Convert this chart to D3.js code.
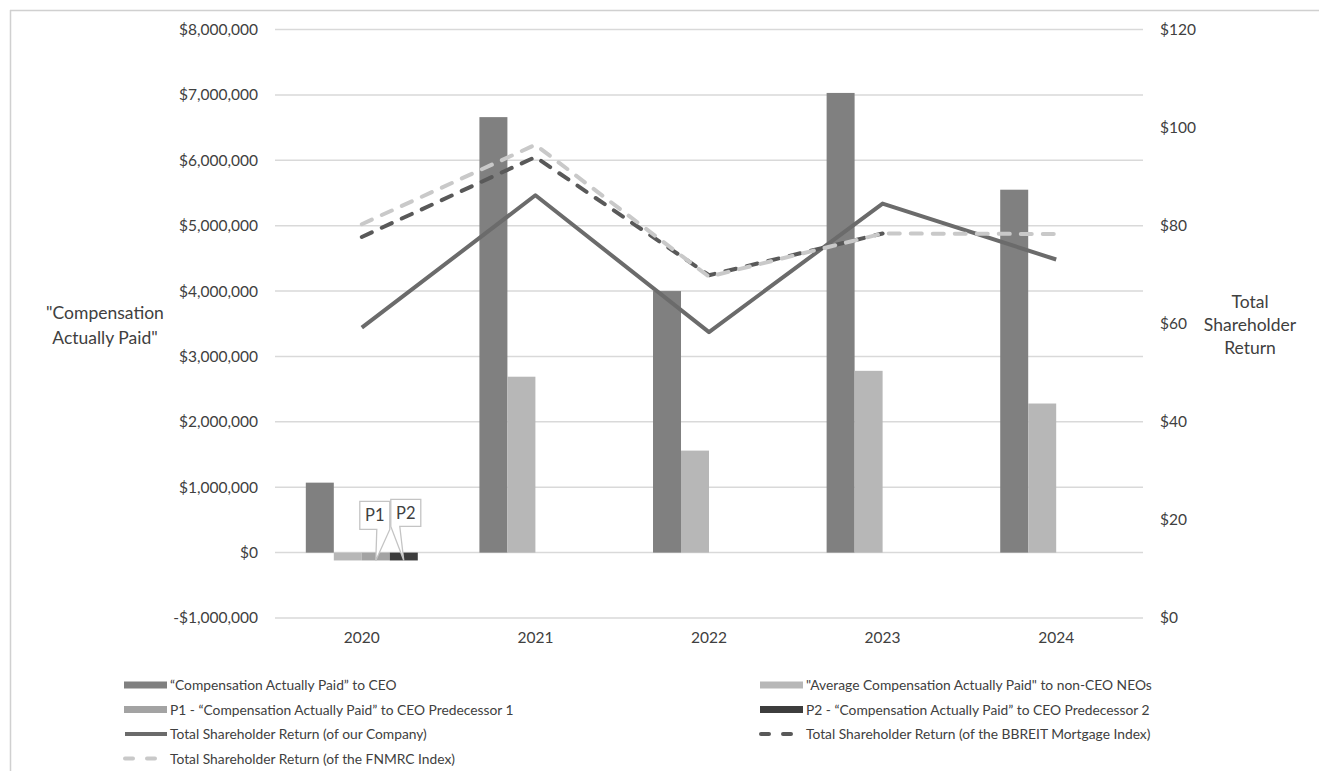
<!DOCTYPE html>
<html>
<head>
<meta charset="utf-8">
<script src="https://cdn.jsdelivr.net/npm/d3@7"></script>
<style>
  body { margin: 0; background: #fff; }
  svg { display: block; font-family: Lato, "Open Sans", sans-serif; }
</style>
</head>
<body>
<svg id="chart" width="1319" height="771"></svg>
<script>
// data
const years = ['2020', '2021', '2022', '2023', '2024'];
const ceoPaid = [1070000, 6660000, 4000000, 7030000, 5550000];
const neoPaid = [-120000, 2690000, 1560000, 2780000, 2280000];
const p1Paid = [-120000, null, null, null, null];
const p2Paid = [-120000, null, null, null, null];
const tsrCompany = [59.2, 86.2, 58.3, 84.5, 73.1];
const tsrBbreit = [77.7, 94.0, 69.9, 78.4, null];
const tsrFnmrc = [80.3, 96.5, 69.6, 78.4, 78.3];
const leftTicks = [-1000000, 0, 1000000, 2000000, 3000000, 4000000, 5000000, 6000000, 7000000, 8000000];
const rightTicks = [0, 20, 40, 60, 80, 100, 120];

const svg = d3.select('#chart');
const W = 1319;
const FONT = 'Lato, "Open Sans", sans-serif';
const TXT = '#404040';

const x = d3.scaleBand().domain(years).range([275, 1143]);
const yL = d3.scaleLinear().domain([-1000000, 8000000]).range([618, 29.5]);
const yR = d3.scaleLinear().domain([0, 120]).range([618, 29.5]);

const barSeries = [
    {key: 'ceo', vals: ceoPaid, color: '#808080', label: '“Compensation Actually Paid” to CEO'},
    {key: 'neo', vals: neoPaid, color: '#b7b7b7', label: '"Average Compensation Actually Paid" to non-CEO NEOs'},
    {key: 'p1', vals: p1Paid, color: '#a3a3a3', label: 'P1 - “Compensation Actually Paid” to CEO Predecessor 1'},
    {key: 'p2', vals: p2Paid, color: '#3d3d3d', label: 'P2 - “Compensation Actually Paid” to CEO Predecessor 2'}
];
const lineSeries = [
    {key: 'co', vals: tsrCompany, color: '#6b6b6b', dash: null, label: 'Total Shareholder Return (of our Company)'},
    {key: 'bb', vals: tsrBbreit, color: '#595959', dash: '11,11', label: 'Total Shareholder Return (of the BBREIT Mortgage Index)'},
    {key: 'fn', vals: tsrFnmrc, color: '#c9c9c9', dash: '11,11', label: 'Total Shareholder Return (of the FNMRC Index)'}
];

const groupW = x.bandwidth() * 0.645;
const xs = d3.scaleBand().domain(barSeries.map(s => s.key))
    .range([(x.bandwidth() - groupW) / 2, (x.bandwidth() + groupW) / 2]);

// frame
svg.append('line').attr('x1', 10).attr('x2', W).attr('y1', 10.5).attr('y2', 10.5)
    .attr('stroke', '#d0d0d0').attr('stroke-width', 1.5);
svg.append('line').attr('x1', 10.5).attr('x2', 10.5).attr('y1', 10).attr('y2', 771)
    .attr('stroke', '#d0d0d0').attr('stroke-width', 1.5);

// gridlines
svg.append('g').selectAll('line').data(leftTicks).join('line')
    .attr('x1', 275).attr('x2', 1143)
    .attr('y1', d => yL(d)).attr('y2', d => yL(d))
    .attr('stroke', '#d9d9d9').attr('stroke-width', 1.5);

const styleTicks = (g, size) => {
    g.select('.domain').remove();
    g.selectAll('text').attr('font-size', size).attr('fill', TXT).attr('font-family', FONT);
};

// left axis
svg.append('g').attr('transform', 'translate(258,0)')
    .call(d3.axisLeft(yL).tickValues(leftTicks).tickSize(0).tickPadding(0)
        .tickFormat(d => (d < 0 ? '-$' : '$') + d3.format(',')(Math.abs(d))))
    .call(styleTicks, 15.5);

// right axis
svg.append('g').attr('transform', 'translate(1160,0)')
    .call(d3.axisRight(yR).tickValues(rightTicks).tickSize(0).tickPadding(0)
        .tickFormat(d => '$' + d))
    .call(styleTicks, 15.5);

// category axis
svg.append('g').attr('transform', 'translate(0,632)')
    .call(d3.axisBottom(x).tickSize(0).tickPadding(0))
    .call(styleTicks, 15.5);

// axis titles
const titleL = svg.append('text').attr('text-anchor', 'middle').attr('font-size', 17.5).attr('fill', TXT);
titleL.append('tspan').attr('x', 105).attr('y', 319).text('"Compensation');
titleL.append('tspan').attr('x', 105).attr('y', 344).text('Actually Paid"');
const titleR = svg.append('text').attr('text-anchor', 'middle').attr('font-size', 17.5).attr('fill', TXT);
['Total', 'Shareholder', 'Return'].forEach((t, i) => {
    titleR.append('tspan').attr('x', 1250).attr('y', 308 + i * 23).text(t);
});

// bars
barSeries.forEach(s => {
    svg.append('g').selectAll('rect')
        .data(years.map((yr, i) => ({yr, v: s.vals[i]})).filter(d => d.v !== null))
        .join('rect')
        .attr('x', d => x(d.yr) + xs(s.key))
        .attr('width', xs.bandwidth())
        .attr('y', d => Math.min(yL(d.v), yL(0)))
        .attr('height', d => Math.abs(yL(d.v) - yL(0)))
        .attr('fill', s.color);
});

// lines
const cx = yr => x(yr) + x.bandwidth() / 2;
lineSeries.forEach(s => {
    const line = d3.line()
        .defined(d => d.v !== null)
        .x(d => cx(d.yr))
        .y(d => yR(d.v));
    svg.append('path')
        .datum(years.map((yr, i) => ({yr, v: s.vals[i]})))
        .attr('d', line)
        .attr('fill', 'none')
        .attr('stroke', s.color)
        .attr('stroke-width', 4)
        .attr('stroke-linecap', s.dash ? 'round' : 'butt')
        .attr('stroke-linejoin', 'round')
        .attr('stroke-dasharray', s.dash);
});

// P1 / P2 callouts
const callouts = [
    {key: 'p1', text: 'P1', vals: p1Paid, box: [-16, -59, 30, 28], base: [1, 14]},
    {key: 'p2', text: 'P2', vals: p2Paid, box: [-13, -61, 30, 27], base: [-13, -4]}
];
callouts.forEach(c => {
    const tx = x(years[0]) + xs(c.key) + xs.bandwidth() / 2;
    const ty = yL(c.vals[0]);
    const [bx, by, bw, bh] = c.box;
    const L = tx + bx, T = ty + by, R = L + bw, B = T + bh;
    const p = d3.path();
    p.moveTo(L, T); p.lineTo(R, T); p.lineTo(R, B);
    p.lineTo(tx + Math.max(c.base[0], c.base[1]), B);
    p.lineTo(tx, ty);
    p.lineTo(tx + Math.min(c.base[0], c.base[1]), B);
    p.lineTo(L, B); p.closePath();
    svg.append('path').attr('d', p.toString())
        .attr('fill', '#fff').attr('stroke', '#c4c4c4').attr('stroke-width', 1.3);
    svg.append('text').attr('x', (L + R) / 2).attr('y', (T + B) / 2 + 6)
        .attr('text-anchor', 'middle').attr('font-size', 16.5).attr('fill', TXT)
        .text(c.text);
});

// legend
const legendItems = [
    {s: barSeries[0], type: 'bar', col: 0, row: 0},
    {s: barSeries[1], type: 'bar', col: 1, row: 0},
    {s: barSeries[2], type: 'bar', col: 0, row: 1},
    {s: barSeries[3], type: 'bar', col: 1, row: 1},
    {s: lineSeries[0], type: 'line', col: 0, row: 2},
    {s: lineSeries[1], type: 'line', col: 1, row: 2},
    {s: lineSeries[2], type: 'line', col: 0, row: 3}
];
const colX = [124, 760];
const lg = svg.append('g');
legendItems.forEach(it => {
    const gx = colX[it.col], gy = 685 + it.row * 24.5;
    if (it.type === 'bar') {
        lg.append('rect').attr('x', gx).attr('y', gy - 3.5).attr('width', 43).attr('height', 7)
            .attr('fill', it.s.color);
    } else {
        lg.append('line').attr('x1', gx + 1).attr('x2', gx + 43).attr('y1', gy).attr('y2', gy)
            .attr('stroke', it.s.color).attr('stroke-width', 4)
            .attr('stroke-linecap', it.s.dash ? 'round' : 'butt')
            .attr('stroke-dasharray', it.s.dash ? '8,14' : null);
    }
    lg.append('text').attr('x', gx + 46).attr('y', gy + 5)
        .attr('font-size', 13.8).attr('fill', TXT).text(it.s.label);
});
</script>
</body>
</html>
